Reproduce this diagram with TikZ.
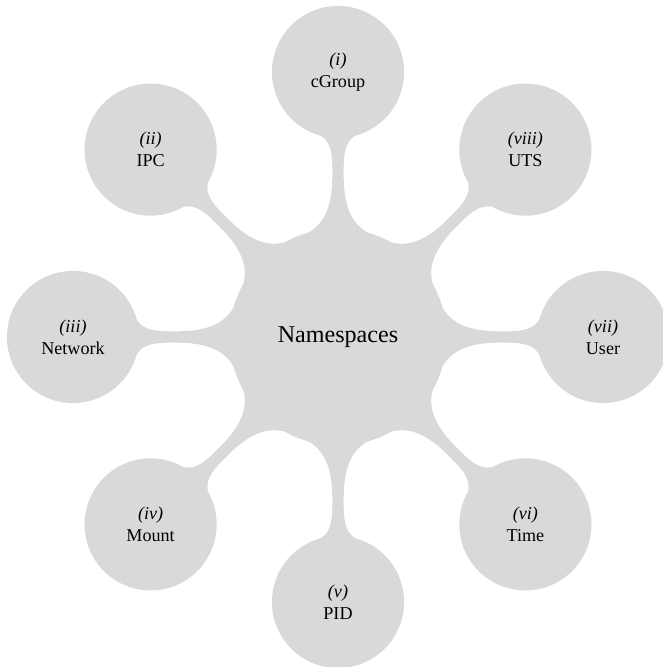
\documentclass[tikz,border=0pt]{standalone}
\usepackage{fontspec}
\setmainfont{Liberation Serif}
\usetikzlibrary{mindmap}
\begin{document}
\begin{tikzpicture}[mindmap, concept color=black!15, text=black,
  hub/.style={concept, circle, minimum size=4.3cm, text width=3.8cm, align=center,
    font=\fontsize{13.7}{16}\selectfont},
  leaf/.style={concept, circle, minimum size=2.6cm, text width=2.3cm, align=center,
    font=\fontsize{10.3}{12.5}\selectfont},
  link/.style={circle connection bar switch color=from (black!15) to (black!15)}]
  \useasboundingbox (-6.76,-6.60) rectangle (6.48,6.74);
  % central concept
  \node[hub] (ns) at (0,0) {Namespaces};
  % the eight namespace kinds, counter-clockwise from the top
  \node[leaf] (cg)  at (90:5.3)  {\textit{(i)}\\cGroup};
  \node[leaf] (ipc) at (135:5.3) {\textit{(ii)}\\IPC};
  \node[leaf] (net) at (180:5.3) {\textit{(iii)}\\Network};
  \node[leaf] (mnt) at (225:5.3) {\textit{(iv)}\\Mount};
  \node[leaf] (pid) at (270:5.3) {\textit{(v)}\\PID};
  \node[leaf] (tim) at (315:5.3) {\textit{(vi)}\\Time};
  \node[leaf] (usr) at (0:5.3)   {\textit{(vii)}\\User};
  \node[leaf] (uts) at (45:5.3)  {\textit{(viii)}\\UTS};
  % connection bars
  \foreach \c in {cg,ipc,net,mnt,pid,tim,usr,uts}
    \path (ns) to[link] (\c);
\end{tikzpicture}
\end{document}
